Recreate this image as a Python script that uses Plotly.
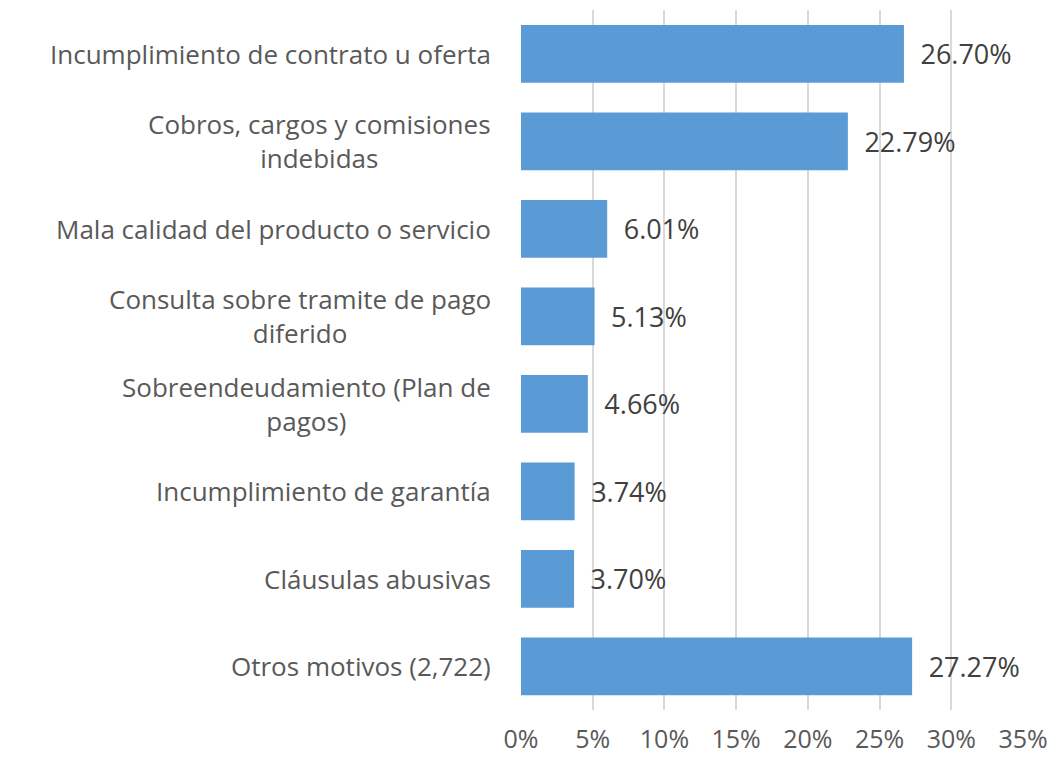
"""Motivos de reclamación: barras horizontales con porcentaje."""

import plotly.graph_objects as go

categorias = [
    'Incumplimiento de contrato u oferta',
    'Cobros, cargos y comisiones<br>indebidas',
    'Mala calidad del producto o servicio',
    'Consulta sobre tramite de pago<br>diferido',
    'Sobreendeudamiento (Plan de<br>pagos)',
    'Incumplimiento de garantía',
    'Cláusulas abusivas',
    'Otros motivos (2,722)',
]
porcentajes = [26.70, 22.79, 6.01, 5.13, 4.66, 3.74, 3.70, 27.27]
ticks_x = [0, 5, 10, 15, 20, 25, 30, 35]
ticks_x_texto = [f'{t}%' for t in ticks_x]

FUENTE = 'Open Sans'
AZUL = '#5B9BD5'

fig = go.Figure()
fig.add_trace(go.Bar(
    x=porcentajes,
    y=categorias,
    orientation='h',
    marker=dict(color=AZUL, line=dict(width=0)),
    text=[f'\u2002{v:.2f}%' for v in porcentajes],
    textposition='outside',
    textfont=dict(family=FUENTE, size=27, color='#404040'),
    cliponaxis=False,
    hoverinfo='skip',
))

# etiquetas de categoría centradas (como en Excel)
for cat in categorias:
    fig.add_annotation(
        x=0, xref='paper', y=cat, yref='y',
        text=cat, showarrow=False,
        xanchor='right', align='center', xshift=-28,
        font=dict(family=FUENTE, size=26, color='#595959'),
    )

# el body de la página tiene 8px de margen
fig.update_layout(
    width=1040,
    height=747,
    plot_bgcolor='white',
    paper_bgcolor='white',
    showlegend=False,
    bargap=0.34,
    margin=dict(l=513, r=25, t=2, b=45, autoexpand=False),
    font=dict(family=FUENTE, color='#595959'),
)
fig.update_xaxes(
    range=[0, 35],
    tickvals=ticks_x,
    ticktext=ticks_x_texto,
    showgrid=True,
    gridcolor='#D9D9D9',
    gridwidth=1.5,
    zeroline=False,
    showline=False,
    tickfont=dict(family=FUENTE, size=25, color='#595959'),
    ticklabelstandoff=12,
    automargin=False,
)
fig.update_yaxes(
    autorange='reversed',
    showticklabels=False,
    showgrid=False,
    zeroline=False,
)

fig.write_html('out.html')
